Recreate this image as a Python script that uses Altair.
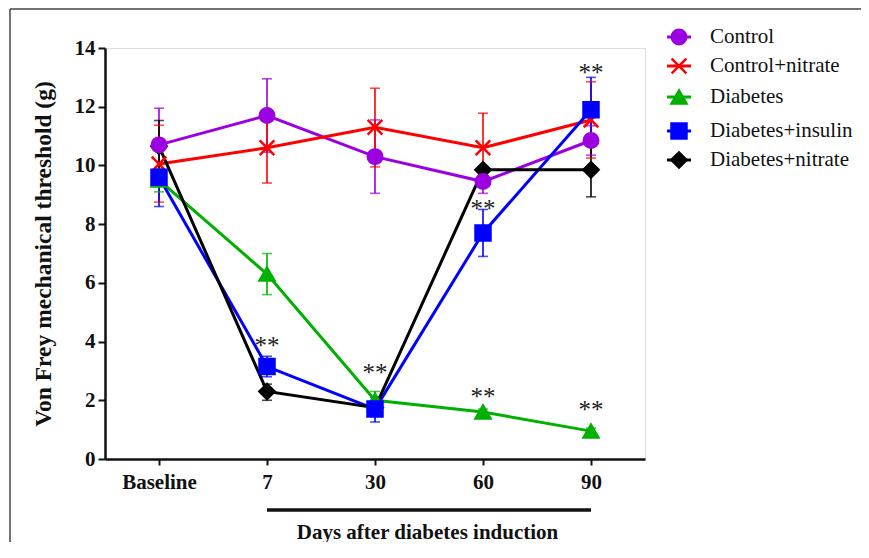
import altair as alt
import pandas as pd

days = ["Baseline", "7", "30", "60", "90"]
series = ["Control", "Control+nitrate", "Diabetes", "Diabetes+insulin", "Diabetes+nitrate"]
colors = ["#9B00E0", "#FF0000", "#00B000", "#0000FF", "#000000"]
shapes = ["circle", "M-1,-1L1,1M-1,1L1,-1", "triangle-up", "square", "diamond"]
sizes = [210, 230, 260, 250, 130]
line_widths = [3, 3, 3, 3, 2.5]
z_order = [1, 2, 3, 4, 0]

control_mean = [10.7, 11.7, 10.3, 9.45, 10.85]
control_low = [9.45, 10.45, 9.05, 9.05, 10.35]
control_high = [11.95, 12.95, 11.55, 9.85, 11.35]

cnitrate_mean = [10.05, 10.6, 11.3, 10.6, 11.55]
cnitrate_low = [8.75, 9.4, 9.95, 9.4, 10.25]
cnitrate_high = [11.37, 11.78, 12.63, 11.78, 12.85]

diabetes_mean = [9.5, 6.3, 2.0, 1.6, 0.95]
diabetes_low = [9.1, 5.6, 1.75, 1.5, 0.85]
diabetes_high = [9.9, 7.0, 2.3, 1.7, 1.05]

dinsulin_mean = [9.6, 3.15, 1.7, 7.7, 11.9]
dinsulin_low = [8.6, 2.8, 1.26, 6.9, 10.8]
dinsulin_high = [10.6, 3.5, 2.1, 8.5, 13.0]

dnitrate_mean = [10.65, 2.3, 1.75, 9.85, 9.85]
dnitrate_low = [9.7, 2.0, 1.65, 9.75, 8.93]
dnitrate_high = [11.53, 2.55, 1.85, 9.95, 10.8]

star_days = ["7", "30", "60", "60", "90", "90"]
star_vals = [3.98, 3.07, 8.65, 2.25, 13.3, 1.8]

# legend row centres (page pixels), converted to axis units below
legend_rows_px = [37, 66, 97, 131, 160]

means = [control_mean, cnitrate_mean, diabetes_mean, dinsulin_mean, dnitrate_mean]
lows = [control_low, cnitrate_low, diabetes_low, dinsulin_low, dnitrate_low]
highs = [control_high, cnitrate_high, diabetes_high, dinsulin_high, dnitrate_high]

rows = []
for s, z, m, lo, hi in zip(series, z_order, means, lows, highs):
    for d, v, l, h in zip(days, m, lo, hi):
        rows.append({"series": s, "grp": s, "z": z, "day": d, "value": v, "low": l, "high": h})
df = pd.DataFrame(rows)

PLOT_TOP, PLOT_H, YMAX = 48, 411, 14
leg = pd.DataFrame({
    "series": series, "grp": series,
    "ly": [YMAX + (PLOT_TOP - p) * YMAX / PLOT_H for p in legend_rows_px],
})

stars = pd.DataFrame({"day": star_days, "value": star_vals, "label": ["**"] * len(star_days)})
span = pd.DataFrame({"start": [days[1]], "end": [days[-1]]})
one = pd.DataFrame({"k": [0]})

FONT = "Liberation Serif"
INK = "#111"

xscale = alt.Scale(type="point", padding=0.5, domain=days)
xenc = alt.X(
    "day:O", sort=days, scale=xscale,
    axis=alt.Axis(
        title="Days after diabetes induction", titleFont=FONT, titleFontSize=21,
        titleFontWeight="bold", titleColor=INK, titleX=322, titleY=73,
        titleAlign="center", titleBaseline="middle",
        labelFont=FONT, labelFontSize=21, labelFontWeight="bold", labelColor=INK,
        labelAngle=0, labelPadding=6, tickSize=6, tickWidth=2, tickColor=INK,
        domainColor=INK, domainWidth=2.5, grid=False,
    ),
)
yscale = alt.Scale(domain=[0, YMAX], nice=False, zero=True)
yenc = alt.Y(
    "value:Q", scale=yscale,
    axis=alt.Axis(
        title="Von Frey mechanical threshold (g)", titleFont=FONT, titleFontSize=23.5,
        titleFontWeight="bold", titleColor=INK, titleX=-62, titleY=205.5,
        titleAngle=270, titleAlign="center", titleBaseline="middle",
        values=[0, 2, 4, 6, 8, 10, 12, 14], labelFont=FONT, labelFontSize=21,
        labelFontWeight="bold", labelColor=INK, labelPadding=3,
        tickSize=7, tickWidth=2, tickColor=INK,
        domainColor=INK, domainWidth=2.5, grid=False,
    ),
)

color_scale = alt.Scale(domain=series, range=colors)
shape_scale = alt.Scale(domain=series, range=shapes)
size_scale = alt.Scale(domain=series, range=sizes)
width_scale = alt.Scale(domain=series, range=line_widths)

base = alt.Chart(df)

err = base.mark_rule(strokeWidth=1.6).encode(
    x=xenc, y=alt.Y("low:Q", scale=yscale), y2="high:Q",
    stroke=alt.Stroke("grp:N", scale=color_scale, legend=None),
)
cap_lo = base.mark_tick(size=10, thickness=1.6).encode(
    x=xenc, y=alt.Y("low:Q", scale=yscale),
    fill=alt.Fill("grp:N", scale=color_scale, legend=None),
)
cap_hi = base.mark_tick(size=10, thickness=1.6).encode(
    x=xenc, y=alt.Y("high:Q", scale=yscale),
    fill=alt.Fill("grp:N", scale=color_scale, legend=None),
)
lines = base.mark_line().encode(
    x=xenc, y=yenc,
    color=alt.Color("series:N", scale=color_scale, legend=None),
    strokeWidth=alt.StrokeWidth("series:N", scale=width_scale, legend=None),
)
points = base.mark_point(filled=True, strokeWidth=2.5, opacity=1).encode(
    x=xenc, y=alt.Y("value:Q", scale=yscale),
    shape=alt.Shape("grp:N", scale=shape_scale, legend=None),
    fill=alt.Fill("grp:N", scale=color_scale, legend=None),
    stroke=alt.Stroke("grp:N", scale=color_scale, legend=None),
    size=alt.Size("grp:N", scale=size_scale, legend=None),
    order=alt.Order("z:Q"),
)
star_text = alt.Chart(stars).mark_text(
    font=FONT, fontSize=25, color="#222", baseline="alphabetic", dy=12
).encode(x=xenc, y=alt.Y("value:Q", scale=yscale), text="label:N")

under_rule = alt.Chart(span).mark_rule(strokeWidth=3.5, color=INK).encode(
    x=alt.X("start:O", sort=days, scale=xscale), x2="end:O", y=alt.value(462),
)

# manual legend
leg_base = alt.Chart(leg)
leg_lines = leg_base.mark_rule(strokeWidth=3).encode(
    x=alt.value(562), x2=alt.value(586), y=alt.Y("ly:Q", scale=yscale),
    color=alt.Color("series:N", scale=color_scale, legend=None),
)
leg_pts = leg_base.mark_point(filled=True, strokeWidth=2.5, opacity=1).encode(
    x=alt.value(574), y=alt.Y("ly:Q", scale=yscale),
    shape=alt.Shape("grp:N", scale=shape_scale, legend=None),
    fill=alt.Fill("grp:N", scale=color_scale, legend=None),
    stroke=alt.Stroke("grp:N", scale=color_scale, legend=None),
    size=alt.Size("grp:N", scale=size_scale, legend=None),
)
leg_text = leg_base.mark_text(
    font=FONT, fontSize=21, color=INK, align="left", baseline="middle"
).encode(x=alt.value(605), y=alt.Y("ly:Q", scale=yscale), text="series:N")

frame_top = alt.Chart(one).mark_rule(strokeWidth=1.5, color="#444").encode(
    x=alt.value(-95), x2=alt.value(760), y=alt.value(-39)
)
frame_left = alt.Chart(one).mark_rule(strokeWidth=1.5, color="#444").encode(
    x=alt.value(-95), y=alt.value(-39), y2=alt.value(600)
)

chart = alt.layer(
    err, cap_lo, cap_hi, lines, points, star_text, under_rule,
    leg_lines, leg_pts, leg_text, frame_top, frame_left
).properties(
    width=540, height=411,
    padding={"left": 97, "top": 40, "right": 216, "bottom": 83},
    autosize=alt.AutoSizeParams(type="none"),
).configure_view(stroke=None).configure(background="white")

chart.save("out.html", embed_options={"renderer": "svg", "actions": False})
